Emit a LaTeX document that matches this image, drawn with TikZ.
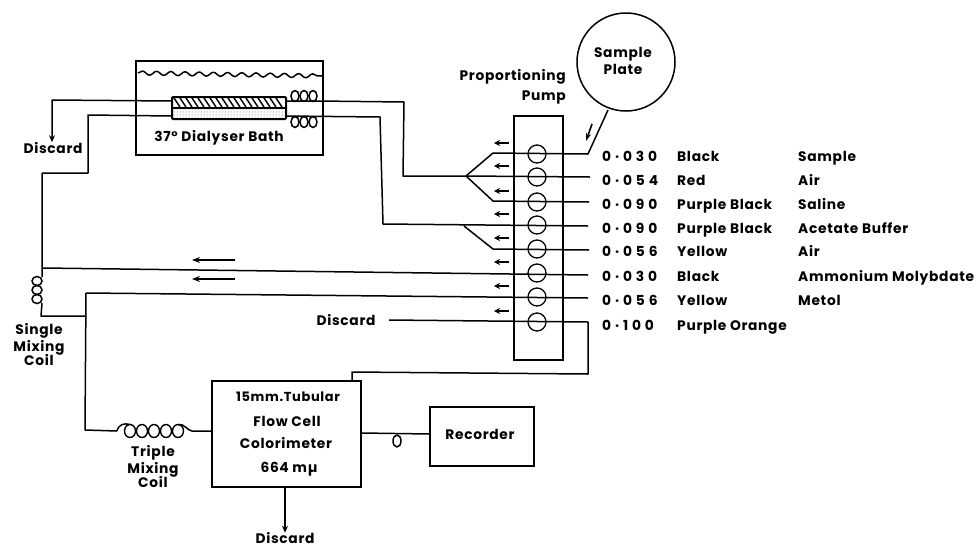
\documentclass[tikz,border=0pt]{standalone}
\usepackage{fontspec}
\setmainfont{Poppins}[LetterSpace=5]
\usetikzlibrary{arrows.meta,patterns,decorations.pathmorphing}
\tikzset{
 ln/.style={line width=1.5pt,line join=round},
 arr/.style={ln,-{Stealth[length=7pt,width=6pt]}},
 lbl/.style={font=\fontsize{13.8}{15.5}\selectfont\bfseries,inner sep=0pt},
 lleft/.style={lbl,anchor=base west},
 pcirc/.style={circle,draw,line width=1.3pt,minimum size=18pt,inner sep=0pt},
 boxn/.style={draw,line width=1.5pt,inner sep=0pt},
}
\begin{document}
\begin{tikzpicture}[x=1pt,y=-1pt]
\useasboundingbox (0,0) rectangle (977,547);
% bath
\node[boxn,minimum width=187pt,minimum height=94pt] (bath) at (229.5,108) {};
\draw[ln,decorate,decoration={snake,amplitude=2pt,segment length=14.2pt}] (138,73) -- (322,76);
% dialyser
\node[inner sep=0,minimum width=114pt,minimum height=10pt,pattern=dots,pattern color=black!70] (dbot) at (229,113.5) {};
\foreach \x in {176,182,...,282} \draw[line width=1.5pt] (\x-2,98) -- (\x+4,107);
\draw[line width=2pt,rounded corners=1pt] (172,97) rectangle (286,119);
\draw[line width=1.8pt] (172,108) -- (286,108);
\node[lbl] (bathl) at (219,138) {37° Dialyser Bath};
% coils in bath
\foreach \x in {295,304,313} {
 \draw[line width=1.5pt] (\x,96) ellipse (4pt and 5.5pt);
 \draw[line width=1.5pt] (\x,122) ellipse (4pt and 5.5pt);
}
% pump
\node[boxn,minimum width=49pt,minimum height=244pt] (pump) at (538.5,238) {};
\coordinate (d1) at (286,101);
\coordinate (d2) at (286,116);
\coordinate (e1) at (172,101);
\coordinate (e2) at (172,116);
\foreach \n/\y in {1/154,2/177,3/202,4/225,5/249,6/273,7/297,8/322} {
 \node[pcirc] (p\n) at (537,\y) {};
 \coordinate (a\n) at (509,\y-11);
 \coordinate (b\n) at (494,\y-11);
 \draw[line width=1.3pt,-{Stealth[length=6pt,width=6pt]}] (a\n) -- (b\n);
}
% plate
\node[circle,draw,line width=1.5pt,minimum size=98pt,inner sep=0pt] (plate) at (626,62) {};
\node[lbl,align=center] (platel) at (623,61) {Sample\\[2pt]Plate};
% tubes
\coordinate (s1) at (588,154); \coordinate (s2) at (590,177); \coordinate (s3) at (589,202);
\coordinate (s4) at (588,226); \coordinate (s5) at (589,250); \coordinate (s6) at (588,275);
\coordinate (s7) at (588,298); \coordinate (s8) at (588,322);
\coordinate (j1) at (466,176);
\coordinate (j2) at (464,226);
\coordinate (pl) at (608,110);
\draw[ln] (d1) -- (318,101) -- (404,102) -- (403,176) -- (j1);
\draw[ln] (j1) -- (493,153) -- (s1) -- (pl);
\draw[ln] (j1) -- (s2);
\draw[ln] (j1) -- (493,201) -- (s3);
\draw[ln] (d2) -- (380,117) -- (383,224) -- (s4);
\draw[ln] (j2) -- (493,249) -- (s5);
\draw[ln] (43,268) -- (s6);
\draw[ln] (86,293) -- (s7);
\coordinate (dl) at (389,320);
\draw[ln] (dl) -- (s8) -- (588,374) -- (352,372) -- (352,381);
\node[lbl] (disc1) at (53,148) {Discard};
\draw[arr] (e1) -- (52,100) -- (disc1.north-|52,0);
\node[lbl] (disc2) at (346,320) {Discard};
\node[lbl] (disc3) at (285,538.5) {Discard};
\draw[ln] (e2) -- (88,115) -- (88,173) -- (42,173) -- (42,277);
% single coil
\foreach \y in {281,290,299} \draw[line width=1.5pt] (37,\y) ellipse (5pt and 4.5pt);
\draw[ln] (42,303) -- (41,316) -- (86,316);
\draw[ln] (86,293) -- (85,430) -- (117,431);
\node[lbl,align=center] (scoil) at (39,345) {Single\\[1pt]Mixing\\[-1pt]Coil};
\node[lbl,align=center] (tcoil) at (153,467) {Triple\\[1pt]Mixing\\[-1pt]Coil};
% triple coil
\foreach \x in {130,142,154,166,178} {
 \draw[line width=1.4pt] (\x,431) ellipse (5.5pt and 6.5pt);
}
\draw[ln] (117,431) .. controls (119,424) and (124,423) .. (130,424.5);
\draw[ln] (178,424.5) .. controls (184,423) and (188,431) .. (192,431) -- (212,431);
% colorimeter
\node[boxn,minimum width=149pt,minimum height=106pt] (cm) at (286.5,434) {};
\node[lbl,font=\fontsize{13}{14}\selectfont\bfseries] (c1) at (288,397) {15mm.Tubular};
\node[lbl] (c2) at (287,421) {Flow Cell};
\node[lbl] (c3) at (286,443) {Colorimeter};
\node[lbl] (c4) at (289,469) {664 mµ};
\node[boxn,minimum width=104pt,minimum height=59pt] (rec) at (482,436.5) {};
\node[lbl] (recl) at (480,434) {Recorder};
\draw[ln] (cm.east|-0,433) -- (rec.west|-0,434);
\draw[ln] (397,441) ellipse (4pt and 6pt);
\draw[arr] (disc3.north|-cm.south) -- (disc3.north);
% long arrows
\coordinate (la1) at (235,260); \coordinate (la1b) at (192,260);
\coordinate (la2) at (235,279); \coordinate (la2b) at (192,279);
\draw[ln,-{Stealth[length=8pt,width=6pt]}] (la1) -- (la1b);
\draw[ln,-{Stealth[length=8pt,width=6pt]}] (la2) -- (la2b);
\coordinate (sa1) at (592,124); \coordinate (sa2) at (586,141);
\draw[line width=1.6pt,-{Stealth[length=8pt,width=5pt]}] (sa1) -- (sa2);
% top labels
\node[lbl,anchor=east] (pp) at (566,77) {Proportioning};
\node[lbl,anchor=east] (pq) at (566,97) {Pump};
% table
\foreach \n/\a/\b/\c/\y in {a/0·030/Black/Sample/161,b/0·054/Red/Air/185,c/0·090/Purple Black/Saline/209,d/0·090/Purple Black/Acetate Buffer/233,e/0·056/Yellow/Air/256,f/0·030/Black/Ammonium Molybdate/281,g/0·056/Yellow/Metol/305,h/0·100/Purple Orange//330} {
 \node[lleft] (t\n) at (602,\y) {\addfontfeature{LetterSpace=28}\a};
 \node[lleft] (u\n) at (677,\y) {\b};
 \node[lleft] (v\n) at (798,\y) {\c};
}
\end{tikzpicture}
\end{document}
